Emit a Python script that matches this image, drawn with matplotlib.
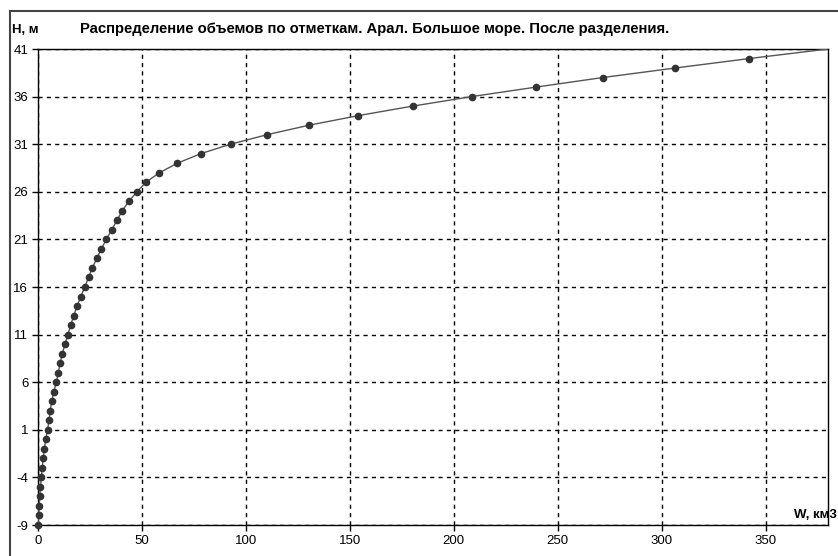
import matplotlib.pyplot as plt
from matplotlib.lines import Line2D

# H, m  -> W, km3 (1 m step)
levels = [-9, -8, -7, -6, -5, -4, -3, -2, -1, 0,
          1, 2, 3, 4, 5, 6, 7, 8, 9, 10,
          11, 12, 13, 14, 15, 16, 17, 18, 19, 20,
          21, 22, 23, 24, 25, 26, 27, 28, 29, 30,
          31, 32, 33, 34, 35, 36, 37, 38, 39, 40, 41]
volumes = [0.0, 0.3, 0.55, 0.85, 1.2, 1.6, 2.05, 2.5, 3.1, 3.7,
           4.6, 5.3, 5.9, 6.6, 7.6, 8.8, 9.8, 10.6, 11.7, 13.0,
           14.4, 15.7, 17.2, 18.8, 20.6, 22.5, 24.3, 26.1, 28.3, 30.4,
           32.9, 35.4, 38.0, 40.5, 43.7, 47.6, 51.9, 58.4, 67.0, 78.2,
           92.6, 110.2, 130.5, 154.0, 180.2, 208.6, 239.6, 271.6, 306.4, 342.2, 380.0]

x_ticks = [0, 50, 100, 150, 200, 250, 300, 350]
y_ticks = [-9, -4, 1, 6, 11, 16, 21, 26, 31, 36, 41]

title = "Распределение объемов по отметкам. Арал. Большое море. После разделения."

plt.rcParams['font.family'] = ['Liberation Sans', 'DejaVu Sans']
plt.rcParams['axes.unicode_minus'] = False

W, H = 838, 556
fig = plt.figure(figsize=(W / 100, H / 100), dpi=100)
ax = fig.add_axes([38 / W, 1 - 525 / H, (828 - 38) / W, (525 - 49) / H])

ax.plot(volumes, levels, color='#555555', lw=1.0, zorder=3)
ax.plot(volumes[:-1], levels[:-1], 'o', color='#333333', ms=4.5, zorder=4, clip_on=False)

ax.set_xlim(0, 380)
ax.set_ylim(-9, 41)
ax.set_xticks(x_ticks)
ax.set_yticks(y_ticks)
ax.grid(True, color='black', ls=(0, (3, 3)), lw=1.0)
ax.tick_params(direction='out', length=4, width=1, labelsize=9.5, color='black')
ax.tick_params(axis='x', pad=3)
ax.tick_params(axis='y', pad=3)
for s in ax.spines.values():
    s.set_color('black')
    s.set_linewidth(1.0)

fig.text(12 / W, 1 - 30 / H, "H, м", fontsize=9.5, fontweight='bold', va='center', ha='left')
fig.text(80 / W, 1 - 29 / H, title, fontsize=10.7, fontweight='bold', va='center', ha='left')
fig.text(837 / W, 1 - 515 / H, "W, км3", fontsize=9.5, fontweight='bold', va='center', ha='right')

# outer frame
fig.add_artist(Line2D([10 / W, 1], [1 - 11 / H, 1 - 11 / H], color='#444444', lw=1.5))
fig.add_artist(Line2D([10 / W, 10 / W], [0, 1 - 11 / H], color='#444444', lw=1.5))

fig.savefig('out.png', dpi=100)
